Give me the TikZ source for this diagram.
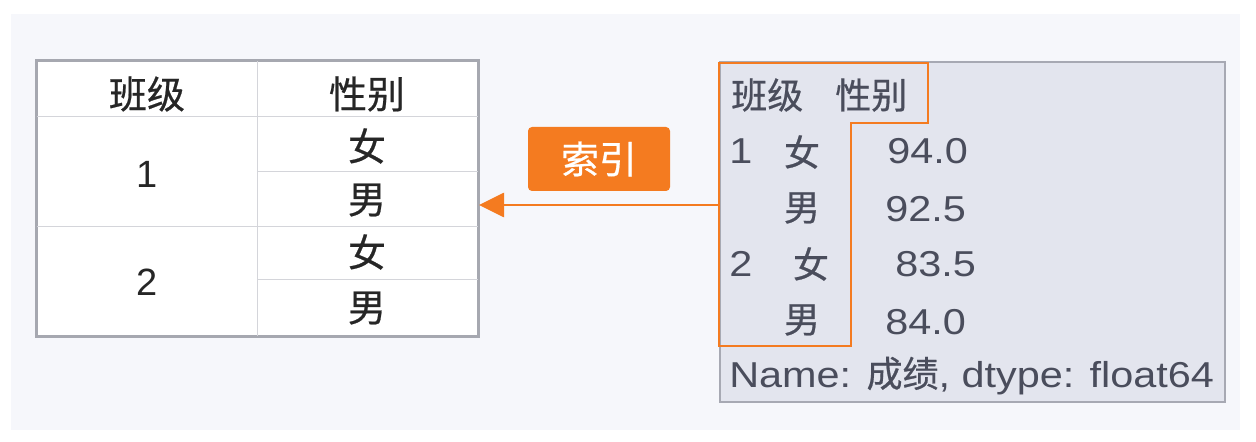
\documentclass[tikz,border=0pt]{standalone}
\usepackage{fontspec}
\setmainfont{Liberation Sans}
\newfontfamily\cjk[FakeBold=0.6]{Noto Sans CJK SC}
\newfontfamily\latw[FakeStretch=1.15]{Liberation Sans}
\usetikzlibrary{arrows.meta}
\definecolor{bgcol}{HTML}{F6F7FB}
\definecolor{tborder}{HTML}{A6A8B0}
\definecolor{tinner}{HTML}{D4D5DA}
\definecolor{rfill}{HTML}{E3E5EE}
\definecolor{rborder}{HTML}{A7A9B3}
\definecolor{orng}{HTML}{F47B20}
\definecolor{ltext}{HTML}{262626}
\definecolor{rtext}{HTML}{4A4D5C}
\begin{document}
\begin{tikzpicture}[x=0.75pt,y=-0.75pt,
  lcjk/.style={font=\cjk\fontsize{28.5}{30}\selectfont, text=ltext, inner sep=0pt},
  lnum/.style={font=\fontsize{28.5}{30}\selectfont, text=ltext, inner sep=0pt},
  rcjk/.style={font=\cjk\fontsize{27}{28}\selectfont, text=rtext, inner sep=0pt},
  rnum/.style={font=\latw\fontsize{27}{28}\selectfont, text=rtext, inner sep=0pt},
  innerline/.style={draw=tinner, line width=0.75pt},
  hl/.style={draw=orng, line width=2.2pt, line join=miter},
  conn/.style={draw=orng, line width=2.1pt, -{Triangle[length=18.75pt, width=18pt]}},
  tag/.style={fill=orng, rounded corners=3pt, text=white, font=\cjk\fontsize{28.5}{30}\selectfont, minimum width=106.5pt, minimum height=48pt, inner sep=0pt}
]
\useasboundingbox (0,0) rectangle (1256,442);
\fill[white] (0,0) rectangle (1256,442);
\fill[bgcol] (11,14) rectangle (1240,430);

% left table
\node[draw=tborder, line width=1.5pt, fill=white, minimum width=330.75pt, minimum height=206.25pt, inner sep=0pt] (ltable) at (257.5,198.5) {};
\draw[innerline] (257,61) -- (257,336);
\draw[innerline] (37,117) -- (478,117);
\draw[innerline] (37,226) -- (478,226);
\draw[innerline] (257,172) -- (478,172);
\draw[innerline] (257,279) -- (478,279);
\draw[draw=tborder, line width=1.5pt] (ltable.south west) rectangle (ltable.north east);

\node[lcjk] (h1) at (147,94) {班级};
\node[lcjk] (h2) at (367,94) {性别};
\node[lnum] (c1) at (147,174) {1};
\node[lnum] (c2) at (147,282) {2};
\node[lcjk] (s1) at (367,146) {女};
\node[lcjk] (s2) at (367,200) {男};
\node[lcjk] (s3) at (367,252) {女};
\node[lcjk] (s4) at (367,308) {男};

% right box
\node[draw=rborder, line width=1.5pt, fill=rfill, minimum width=378.75pt, minimum height=255pt, inner sep=0pt] (rbox) at (972.5,232) {};

\node[rcjk, anchor=west] (rh1) at (731,95) {班级};
\node[rcjk, anchor=west] (rh2) at (835,95) {性别};
\node[rnum, anchor=base west] (r1) at (729,164) {1};
\node[rcjk] (r1s) at (802,152) {女};
\node[rnum, anchor=base west] (v1) at (887,164) {94.0};
\node[rcjk] (r2s) at (802,208) {男};
\node[rnum, anchor=base west] (v2) at (885,221) {92.5};
\node[rnum, anchor=base west] (r3) at (729,276) {2};
\node[rcjk] (r3s) at (811,264) {女};
\node[rnum, anchor=base west] (v3) at (895,276) {83.5};
\node[rcjk] (r4s) at (802,320) {男};
\node[rnum, anchor=base west] (v4) at (885,334) {84.0};
\node[rnum, anchor=base west] (foot) at (729,387) {Name: {\cjk 成绩}, dtype: float64};

% orange highlight of the index
\draw[hl] (719,63) -- (928,63) -- (928,123) -- (851,123) -- (851,346) -- (719,346) -- cycle;

% connector and its label
\coordinate (src) at (719,205);
\draw[conn] (src) -- (src -| ltable.east);
\node[tag] (lbl) at (599,159) {索引};
\end{tikzpicture}
\end{document}
